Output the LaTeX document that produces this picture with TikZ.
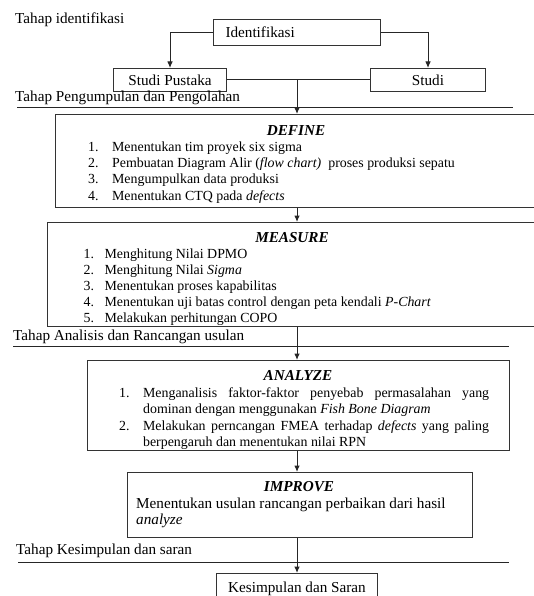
\documentclass[tikz,border=0pt]{standalone}
\usepackage{fontspec}
\setmainfont{Liberation Serif}
\usetikzlibrary{arrows.meta}
\begin{document}
\begin{tikzpicture}
	[x=1pt,y=-1pt,>={Latex[length=6.5pt,width=5.5pt]},font=\fontsize{15.2}{16}\selectfont,
	 box/.style={draw=black!80,line width=1pt,anchor=north west,inner sep=0pt},
	 tahap/.style={anchor=base west,inner sep=0pt},
	 judul/.style={anchor=base,inner sep=0pt,font=\fontsize{15.2}{16}\selectfont\bfseries\itshape},
	 daftar/.style={anchor=base west,inner sep=0pt,font=\fontsize{13.9}{16}\selectfont},
	 garis/.style={draw=black!85,line width=1pt}]
    \useasboundingbox (0,0) rectangle (534,596);

    % tahap identifikasi
    \node[tahap] (t1) at (15,24) {Tahap identifikasi};
    \node[box,minimum width=167,minimum height=26,inner xsep=12pt,text width=143,align=left] (ident) at (213,19) {Identifikasi};
    \node[box,minimum width=113,minimum height=23] (pustaka) at (113,68) {Studi Pustaka};
    \node[box,minimum width=115,minimum height=23] (studi) at (370,68) {Studi};
    \coordinate (cabang) at (297,79.5);

    \draw[garis,->] (ident.west) -| (pustaka.north);
    \draw[garis,->] (ident.east) -| (studi.north);
    \draw[garis] (pustaka.east) -- (studi.west);

    % tahap pengumpulan dan pengolahan
    \node[tahap] (t2) at (15,102) {Tahap Pengumpulan dan Pengolahan};
    \draw[garis] (17,108) -- (513,108);

    \node[box,minimum width=500,minimum height=93] (define) at (55,114) {};
    \node[judul] (definejudul) at (296,136) {DEFINE};
    \node[daftar] (defineisi) at (88,152) {\begin{tabular}[t]{@{}l@{\hspace{13.5pt}}l@{}}
      1. & Menentukan tim proyek six sigma\\
      2. & Pembuatan Diagram Alir (\textit{flow chart)}\ \ proses produksi sepatu\\
      3. & Mengumpulkan data produksi\\
      4. & Menentukan CTQ pada \textit{defects}
    \end{tabular}};

    \node[box,minimum width=510,minimum height=104] (measure) at (47,222) {};
    \begin{scope}
      \clip (measure.north west) rectangle (measure.south east);
      \node[judul] (measurejudul) at (292,242) {MEASURE};
      \node[daftar] (measureisi) at (83.4,258) {\begin{tabular}[t]{@{}l@{\hspace{10.5pt}}l@{}}
        1. & Menghitung Nilai DPMO\\
        2. & Menghitung Nilai \textit{Sigma}\\
        3. & Menentukan proses kapabilitas\\
        4. & Menentukan uji batas control dengan peta kendali \textit{P-Chart}\\
        5. & Melakukan perhitungan COPO
      \end{tabular}};
    \end{scope}

    \draw[garis,->] (cabang) -- (cabang |- define.north);
    \draw[garis,->] (define.south -| cabang) -- (measure.north -| cabang);

    % tahap analisis dan rancangan usulan
    \node[tahap] (t3) at (13,340) {Tahap Analisis dan Rancangan usulan};
    \draw[garis] (13,346) -- (509,346);

    \node[box,minimum width=422,minimum height=90] (analyze) at (87,360) {};
    \begin{scope}
      \clip (analyze.north west) rectangle (analyze.south east);
      \node[judul] (analyzejudul) at (298,380) {ANALYZE};
      \node[daftar,font=\fontsize{13.9}{16.6}\selectfont] (analyzeisi) at (119,397) {\begin{tabular}[t]{@{}l@{\hspace{13.5pt}}l@{}}
        1. & \makebox[346pt][s]{Menganalisis faktor-faktor penyebab permasalahan yang}\\
           & dominan dengan menggunakan \textit{Fish Bone Diagram}\\
        2. & \makebox[346pt][s]{Melakukan perncangan FMEA terhadap \textit{defects} yang paling}\\
           & berpengaruh dan menentukan nilai RPN
      \end{tabular}};
    \end{scope}

    \node[box,minimum width=345,minimum height=65] (improve) at (127,472) {};
    \node[judul] (improvejudul) at (299,491) {IMPROVE};
    \node[daftar,font=\fontsize{15.2}{16.5}\selectfont] (improveisi) at (136,508) {\begin{tabular}[t]{@{}l@{}}
      Menentukan usulan rancangan perbaikan dari hasil\\
      \textit{analyze}
    \end{tabular}};

    \draw[garis,->] (measure.south -| cabang) -- (analyze.north -| cabang);
    \draw[garis,->] (analyze.south -| cabang) -- (improve.north -| cabang);

    % tahap kesimpulan dan saran
    \node[tahap] (t4) at (16,554) {Tahap Kesimpulan dan saran};
    \draw[garis] (18,562) -- (509,562);

    \node[box,minimum width=161,minimum height=30] (simpulan) at (216,573) {Kesimpulan dan Saran};
    \draw[garis,->] (improve.south -| cabang) -- (simpulan.north -| cabang);

\end{tikzpicture}
\end{document}
